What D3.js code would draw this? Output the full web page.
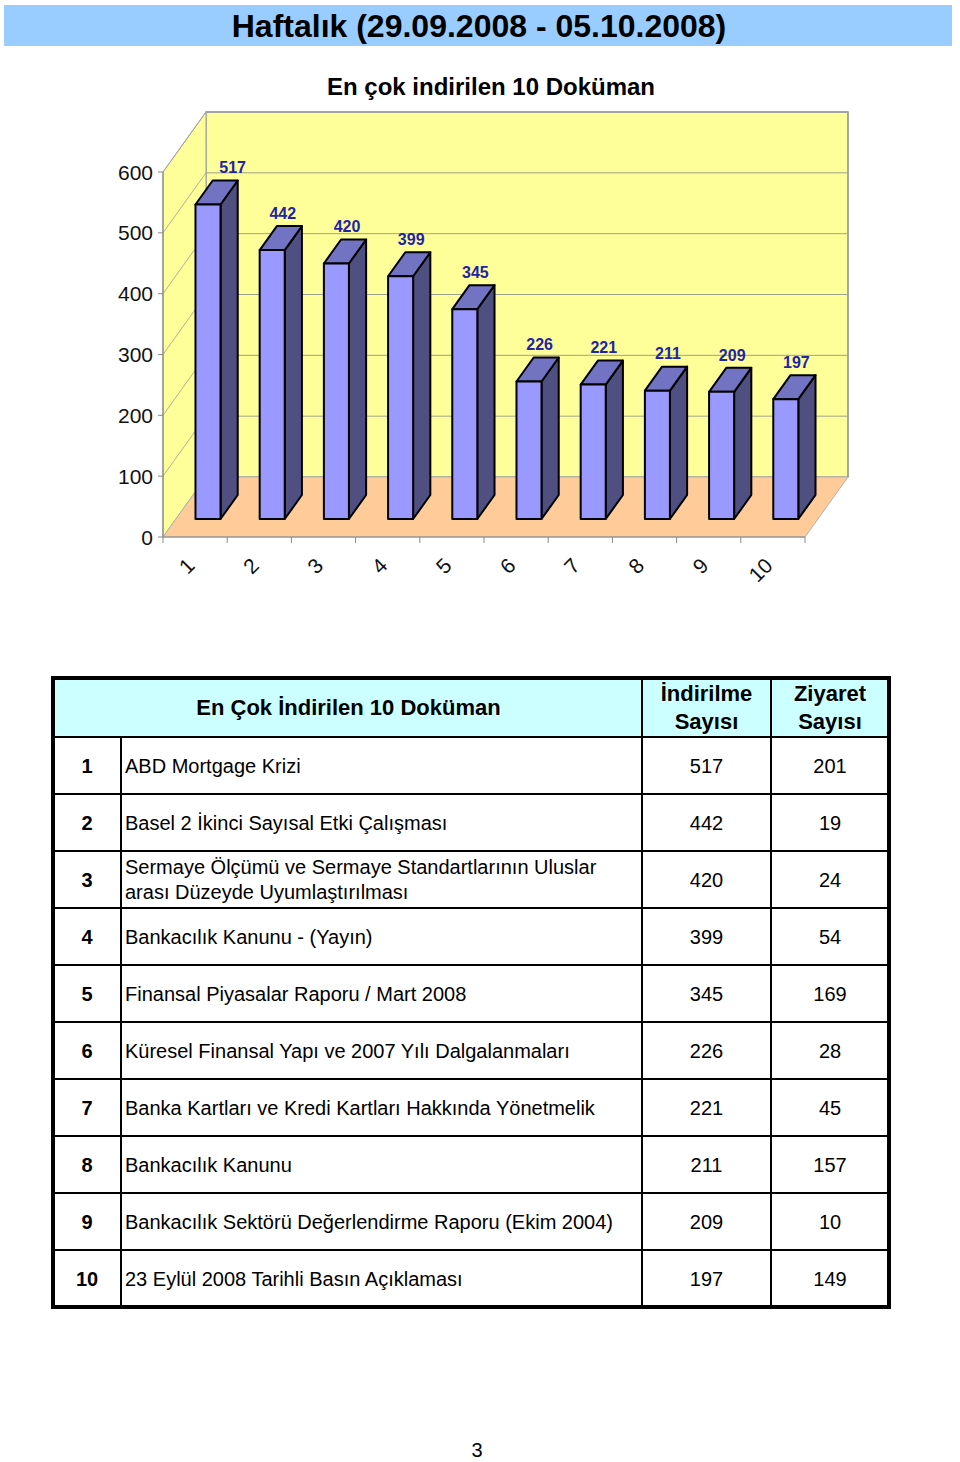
<!DOCTYPE html>
<html><head><meta charset="utf-8">
<script src="https://cdn.jsdelivr.net/npm/d3@7"></script>
<style>
html,body{margin:0;padding:0;background:#fff;}
svg{display:block;font-family:"Liberation Sans",Arial,Helvetica,sans-serif;}
</style></head>
<body>
<svg id="chart" width="960" height="1462"></svg>
<script>
// ---- data ----
const pageTitle = "Haftalık (29.09.2008 - 05.10.2008)";
const chartTitle = "En çok indirilen 10 Doküman";
const categories = ["1","2","3","4","5","6","7","8","9","10"];
const downloads = [517,442,420,399,345,226,221,211,209,197];
const visits = [201,19,24,54,169,28,45,157,10,149];
const yTicks = [0,100,200,300,400,500,600];
const docNames = [
  ["ABD Mortgage Krizi"],
  ["Basel 2 İkinci Sayısal Etki Çalışması"],
  ["Sermaye Ölçümü ve Sermaye Standartlarının Uluslar","arası Düzeyde Uyumlaştırılması"],
  ["Bankacılık Kanunu - (Yayın)"],
  ["Finansal Piyasalar Raporu / Mart 2008"],
  ["Küresel Finansal Yapı ve 2007 Yılı Dalgalanmaları"],
  ["Banka Kartları ve Kredi Kartları Hakkında Yönetmelik"],
  ["Bankacılık Kanunu"],
  ["Bankacılık Sektörü Değerlendirme Raporu (Ekim 2004)"],
  ["23 Eylül 2008 Tarihli Basın Açıklaması"]
];
const tableHeader = ["En Çok İndirilen 10 Doküman", ["İndirilme","Sayısı"], ["Ziyaret","Sayısı"]];
const pageNumber = "3";

// ---- drawing ----
const svg = d3.select("#chart");

// title band
svg.append("rect").attr("x",4).attr("y",5).attr("width",948).attr("height",41).attr("fill","#99ccff");
svg.append("text").attr("x",479).attr("y",37).attr("text-anchor","middle")
  .attr("font-size",32).attr("font-weight","bold").attr("fill","#000").text(pageTitle);
svg.append("text").attr("x",491).attr("y",95).attr("text-anchor","middle")
  .attr("font-size",24).attr("font-weight","bold").attr("fill","#000").text(chartTitle);

// 3D chart geometry
const x = d3.scaleBand().domain(categories).range([163,805]);
const y = d3.scaleLinear().domain([0,600]).range([537,172]);
const DX = 43, DY = -60; // depth vector
const off = f => [DX*f, DY*f];
const g = svg.append("g");
const pt = (px,py) => px+","+py;

const x0 = x.range()[0], x1 = x.range()[1];
const yTop = y(600), yBot = y(0);

// back wall
g.append("polygon").attr("points",[pt(x0+DX,yTop+DY),pt(x1+DX,yTop+DY),pt(x1+DX,yBot+DY),pt(x0+DX,yBot+DY)].join(" "))
  .attr("fill","#ffff99").attr("stroke","#a0a0a0").attr("stroke-width",1.5);
// side wall
g.append("polygon").attr("points",[pt(x0,yBot),pt(x0,yTop),pt(x0+DX,yTop+DY),pt(x0+DX,yBot+DY)].join(" "))
  .attr("fill","#ffff99").attr("stroke","#a0a0a0").attr("stroke-width",1);
// floor
g.append("polygon").attr("points",[pt(x0,yBot),pt(x1,yBot),pt(x1+DX,yBot+DY),pt(x0+DX,yBot+DY)].join(" "))
  .attr("fill","#ffcc99").attr("stroke","#b0b0b0").attr("stroke-width",1);

// gridlines
yTicks.forEach(t=>{
  if(t===0) return;
  g.append("line").attr("x1",x0+DX).attr("x2",x1+DX).attr("y1",y(t)+DY).attr("y2",y(t)+DY)
    .attr("stroke","#a0a090").attr("stroke-width",1);
  g.append("line").attr("x1",x0).attr("x2",x0+DX).attr("y1",y(t)).attr("y2",y(t)+DY)
    .attr("stroke","#a0a090").attr("stroke-width",0.8);
});
g.append("line").attr("x1",x0+DX).attr("x2",x1+DX).attr("y1",yTop+DY).attr("y2",yTop+DY).attr("stroke","#a0a0a0").attr("stroke-width",1.5);
g.append("line").attr("x1",x1+DX).attr("x2",x1+DX).attr("y1",yTop+DY).attr("y2",yBot+DY).attr("stroke","#a0a0a0").attr("stroke-width",1.5);

// axes
g.append("line").attr("x1",x0).attr("x2",x0).attr("y1",yTop).attr("y2",yBot).attr("stroke","#888").attr("stroke-width",1.2);
g.append("line").attr("x1",x0).attr("x2",x1).attr("y1",yBot).attr("y2",yBot).attr("stroke","#888").attr("stroke-width",1.2);
yTicks.forEach(t=>{
  g.append("line").attr("x1",x0-5).attr("x2",x0).attr("y1",y(t)).attr("y2",y(t)).attr("stroke","#888");
  g.append("text").attr("x",x0-10).attr("y",y(t)).attr("dy","0.36em").attr("text-anchor","end")
    .attr("font-size",21).attr("fill","#111").text(t);
});
const bounds = categories.map(c=>x(c)).concat([x1]);
bounds.forEach(bx=>{
  g.append("line").attr("x1",bx).attr("x2",bx).attr("y1",yBot).attr("y2",yBot+6).attr("stroke","#888");
});
categories.forEach(c=>{
  const cx = x(c)+x.bandwidth()/2;
  g.append("text").attr("text-anchor","end").attr("font-size",21).attr("fill","#111")
    .attr("transform",`translate(${cx+1},${yBot+30}) rotate(-45)`).text(c);
});

// bars
const bw = x.bandwidth()*0.39;
const fF = 0.3, fB = 0.7;
const [ox,oy] = off(fF);
const dxb = DX*(fB-fF), dyb = DY*(fB-fF);
categories.forEach((c,i)=>{
  const v = downloads[i];
  const lx = x(c)+x.bandwidth()/2-bw/2+ox;
  const rx = lx+bw;
  const by = y(0)+oy, ty = y(v)+oy;
  const bar = g.append("g").attr("stroke","#000").attr("stroke-width",2).attr("stroke-linejoin","round");
  bar.append("polygon").attr("points",[pt(rx,by),pt(rx,ty),pt(rx+dxb,ty+dyb),pt(rx+dxb,by+dyb)].join(" ")).attr("fill","#4f4f82");
  bar.append("polygon").attr("points",[pt(lx,ty),pt(rx,ty),pt(rx+dxb,ty+dyb),pt(lx+dxb,ty+dyb)].join(" ")).attr("fill","#7373c4");
  bar.append("rect").attr("x",lx).attr("y",ty).attr("width",bw).attr("height",by-ty).attr("fill","#9999ff");
  g.append("text").attr("x",lx+bw/2+dxb/2+2+(i===0?14:0)).attr("y",ty+dyb-13).attr("dy","0.36em").attr("text-anchor","middle")
    .attr("font-size",16).attr("font-weight","bold").attr("fill","#2323a8").text(v);
});

// ---- table ----
const tL = 53, tR = 889, tT = 678, hH = 59, rH = 57;
const colX = [53,121,642,771,889];
const rows = d3.range(docNames.length);
const rowY = d3.scaleBand().domain(rows).range([tT+hH, tT+hH+rH*rows.length]);
const tb = svg.append("g");
tb.append("rect").attr("x",tL).attr("y",tT).attr("width",tR-tL).attr("height",hH).attr("fill","#ccffff");
rows.forEach(r=>{
  tb.append("line").attr("x1",tL).attr("x2",tR).attr("y1",rowY(r)).attr("y2",rowY(r)).attr("stroke","#000").attr("stroke-width",2);
});
const tBot = rowY(rows.length-1)+rH;
tb.append("line").attr("x1",colX[1]).attr("x2",colX[1]).attr("y1",tT+hH).attr("y2",tBot).attr("stroke","#000").attr("stroke-width",2);
[colX[2],colX[3]].forEach(cx=>{
  tb.append("line").attr("x1",cx).attr("x2",cx).attr("y1",tT).attr("y2",tBot).attr("stroke","#000").attr("stroke-width",2);
});
tb.append("rect").attr("x",tL).attr("y",tT).attr("width",tR-tL).attr("height",tBot-tT)
  .attr("fill","none").attr("stroke","#000").attr("stroke-width",4);
tb.append("text").attr("x",(colX[0]+colX[2])/2+1).attr("y",tT+hH/2).attr("dy","0.36em").attr("text-anchor","middle")
  .attr("font-size",22).attr("font-weight","bold").text(tableHeader[0]);
[1,2].forEach(k=>{
  const cx=(colX[k+1]+colX[k+2])/2;
  tableHeader[k].forEach((line,j)=>{
    tb.append("text").attr("x",cx).attr("y",tT+hH/2+(j-0.5)*28).attr("dy","0.36em").attr("text-anchor","middle")
      .attr("font-size",22).attr("font-weight","bold").text(line);
  });
});
rows.forEach(r=>{
  const cy = rowY(r)+rH/2;
  tb.append("text").attr("x",(colX[0]+colX[1])/2).attr("y",cy).attr("dy","0.36em").attr("text-anchor","middle")
    .attr("font-size",20).attr("font-weight","bold").text(r+1);
  const lines = docNames[r];
  lines.forEach((ln,j)=>{
    tb.append("text").attr("x",colX[1]+4).attr("y",cy+(j-(lines.length-1)/2)*25).attr("dy","0.36em")
      .attr("font-size",20).text(ln);
  });
  tb.append("text").attr("x",(colX[2]+colX[3])/2).attr("y",cy).attr("dy","0.36em").attr("text-anchor","middle")
    .attr("font-size",20).text(downloads[r]);
  tb.append("text").attr("x",(colX[3]+colX[4])/2).attr("y",cy).attr("dy","0.36em").attr("text-anchor","middle")
    .attr("font-size",20).text(visits[r]);
});

svg.append("text").attr("x",477).attr("y",1450).attr("dy","0.36em").attr("text-anchor","middle")
  .attr("font-size",20).text(pageNumber);
</script>
</body></html>
